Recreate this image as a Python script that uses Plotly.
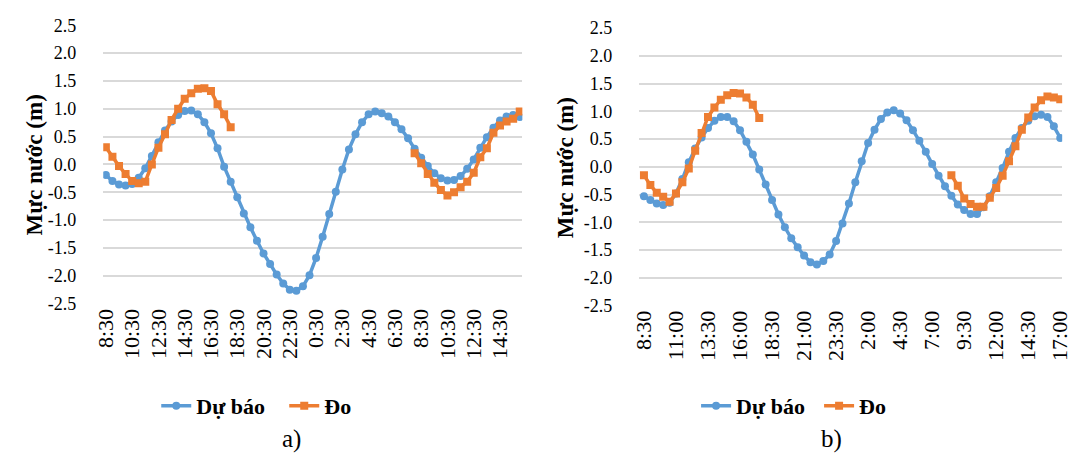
import plotly.graph_objects as go

W, H = 1082, 456

# ---------------- data ----------------
times_a = ["8:30","9:00","9:30","10:00","10:30","11:00","11:30","12:00","12:30","13:00",
           "13:30","14:00","14:30","15:00","15:30","16:00","16:30","17:00","17:30","18:00",
           "18:30","19:00","19:30","20:00","20:30","21:00","21:30","22:00","22:30","23:00",
           "23:30","0:00","0:30","1:00","1:30","2:00","2:30","3:00","3:30","4:00",
           "4:30","5:00","5:30","6:00","6:30","7:00","7:30","8:00","8:30","9:00",
           "9:30","10:00","10:30","11:00","11:30","12:00","12:30","13:00","13:30","14:00",
           "14:30","15:00","15:30","16:00"]

du_bao_a = [-0.19, -0.30, -0.36, -0.38, -0.35, -0.24, -0.07, 0.15, 0.40, 0.61,
            0.77, 0.89, 0.96, 0.97, 0.90, 0.76, 0.56, 0.29, -0.04, -0.31,
            -0.59, -0.88, -1.13, -1.37, -1.60, -1.79, -1.98, -2.14, -2.25, -2.27,
            -2.19, -1.99, -1.68, -1.30, -0.89, -0.49, -0.09, 0.27, 0.54, 0.76,
            0.90, 0.95, 0.92, 0.86, 0.76, 0.63, 0.47, 0.28, 0.12, -0.03,
            -0.16, -0.25, -0.29, -0.28, -0.21, -0.08, 0.09, 0.30, 0.49, 0.66,
            0.79, 0.86, 0.89, 0.85]

do_a = ([0.31, 0.14, -0.03, -0.17, -0.30, -0.34, -0.31, 0.00, 0.30, 0.54,
         0.80, 1.00, 1.18, 1.28, 1.36, 1.37, 1.32, 1.08, 0.90, 0.67]
        + [None] * 27
        + [0.20, 0.02, -0.17, -0.33, -0.46, -0.56, -0.50, -0.41, -0.31, -0.15,
           0.13, 0.29, 0.57, 0.70, 0.77, 0.82, 0.95])

times_b = ["8:30","9:00","9:30","10:00","10:30","11:00","11:30","12:00","12:30","13:00",
           "13:30","14:00","14:30","15:00","15:30","16:00","16:30","17:00","17:30","18:00",
           "18:30","19:00","19:30","20:00","20:30","21:00","21:30","22:00","22:30","23:00",
           "23:30","0:00","0:30","1:00","1:30","2:00","2:30","3:00","3:30","4:00",
           "4:30","5:00","5:30","6:00","6:30","7:00","7:30","8:00","8:30","9:00",
           "9:30","10:00","10:30","11:00","11:30","12:00","12:30","13:00","13:30","14:00",
           "14:30","15:00","15:30","16:00","16:30","17:00"]

du_bao_b = [-0.53, -0.60, -0.66, -0.69, -0.65, -0.48, -0.22, 0.08, 0.33, 0.53,
            0.70, 0.83, 0.90, 0.90, 0.82, 0.66, 0.45, 0.22, -0.05, -0.32,
            -0.60, -0.86, -1.09, -1.29, -1.45, -1.60, -1.72, -1.76, -1.70, -1.58,
            -1.34, -1.02, -0.66, -0.28, 0.10, 0.43, 0.67, 0.86, 0.98, 1.02,
            0.96, 0.84, 0.66, 0.47, 0.27, 0.05, -0.16, -0.35, -0.52, -0.68,
            -0.78, -0.85, -0.85, -0.73, -0.53, -0.28, -0.02, 0.27, 0.52, 0.70,
            0.83, 0.91, 0.94, 0.90, 0.73, 0.52]

do_b = ([-0.15, -0.33, -0.47, -0.54, -0.63, -0.48, -0.28, -0.03, 0.29, 0.61,
         0.90, 1.07, 1.21, 1.29, 1.33, 1.32, 1.25, 1.12, 0.88]
        + [None] * 29
        + [-0.15, -0.34, -0.57, -0.67, -0.72, -0.72, -0.56, -0.38, -0.16, 0.10,
           0.37, 0.67, 0.89, 1.07, 1.20, 1.27, 1.25, 1.22])

y_ticks = [2.5, 2.0, 1.5, 1.0, 0.5, 0.0, -0.5, -1.0, -1.5, -2.0, -2.5]
label_step_a = 4
label_step_b = 5
series_names = ["Dự báo", "Đo"]
captions = ["a)", "b)"]
y_title = "Mực nước (m)"

# ---------------- style ----------------
BLUE = "#5B9BD5"
ORANGE = "#ED7D31"
GRID = "#D9D9D9"
SERIF = "Liberation Serif"

def px_x(v):
    return v / W

def px_y(v):
    return 1 - v / H

fig = go.Figure()

idx_a = list(range(len(times_a)))
idx_b = list(range(len(times_b)))

def add_series(x, y, name, color, symbol, xa, ya, leg):
    fig.add_trace(go.Scatter(x=x, y=y, name=name, mode="lines+markers",
                             line=dict(color=color, width=3.5),
                             marker=dict(symbol=symbol, size=8, color=color),
                             connectgaps=False, xaxis=xa, yaxis=ya, legend=leg))

add_series(idx_a, du_bao_a, series_names[0], BLUE, "circle", "x", "y", "legend")
add_series(idx_a, do_a, series_names[1], ORANGE, "square", "x", "y", "legend")
add_series(idx_b, du_bao_b, series_names[0], BLUE, "circle", "x2", "y2", "legend2")
add_series(idx_b, do_b, series_names[1], ORANGE, "square", "x2", "y2", "legend2")

tv_a = idx_a[::label_step_a]
tt_a = [times_a[i] for i in tv_a]
tv_b = idx_b[::label_step_b]
tt_b = [times_b[i] for i in tv_b]

xcommon = dict(showgrid=False, zeroline=False, showline=False, ticks="",
               tickangle=-90, ticklabeloverflow="allow",
               tickfont=dict(family=SERIF, size=22, color="#000"))
ycommon = dict(range=[-2.5, 2.5], tickvals=y_ticks, ticktext=[f"{v:.1f}" for v in y_ticks],
               showgrid=True, gridcolor=GRID, gridwidth=1.5, zeroline=False, showline=False,
               ticks="", ticklabelstandoff=26,
               tickfont=dict(family=SERIF, size=18, color="#000"))

legfont = dict(family=SERIF, size=22, color="#000", weight="bold")

fig.update_layout(
    width=W, height=H,
    margin=dict(l=0, r=0, t=0, b=0),
    paper_bgcolor="white", plot_bgcolor="white",
    font=dict(family=SERIF),
    xaxis=dict(domain=[px_x(95), px_x(522)], range=[-0.4, len(times_a) - 0.6],
               tickvals=tv_a, ticktext=tt_a, anchor="y", **xcommon),
    yaxis=dict(domain=[px_y(307), px_y(16)], anchor="x", **ycommon),
    xaxis2=dict(domain=[px_x(641), px_x(1072)], range=[-0.75, len(times_b) - 0.7],
                tickvals=tv_b, ticktext=tt_b, anchor="y2", **xcommon),
    yaxis2=dict(domain=[px_y(309), px_y(19)], anchor="x2", **ycommon),
    legend=dict(orientation="h", x=px_x(149), y=px_y(414), xanchor="left", yanchor="middle",
                font=legfont, bgcolor="rgba(0,0,0,0)", itemwidth=30, entrywidth=83),
    legend2=dict(orientation="h", x=px_x(699), y=px_y(414), xanchor="left", yanchor="middle",
                 font=legfont, bgcolor="rgba(0,0,0,0)", itemwidth=30, entrywidth=78),
    showlegend=True,
)

for xc, cap in zip([287, 837], captions):
    fig.add_annotation(text=cap, xref="paper", yref="paper", x=px_x(xc), y=px_y(449),
                       xanchor="center", yanchor="middle", showarrow=False,
                       font=dict(family=SERIF, size=25, color="#000"))

for xc, yc in [(25, 162), (566, 165)]:
    fig.add_annotation(text=f"<b>{y_title}</b>", xref="paper", yref="paper",
                       x=px_x(xc), y=px_y(yc), xanchor="center", yanchor="middle",
                       textangle=-90, showarrow=False,
                       font=dict(family=SERIF, size=23, color="#000"))

fig.write_html("out.html")
